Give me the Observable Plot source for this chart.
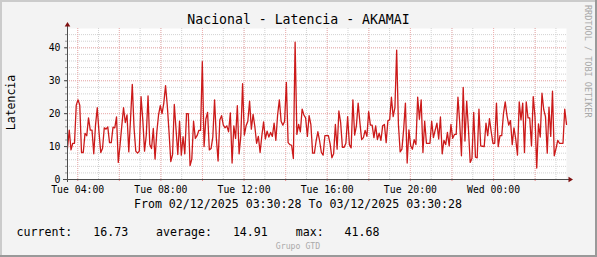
<!DOCTYPE html>
<html><head><meta charset="utf-8">
<script src="https://cdn.jsdelivr.net/npm/d3@7"></script>
<script src="https://cdn.jsdelivr.net/npm/@observablehq/plot@0.6"></script>
<style>
html,body{margin:0;padding:0;background:#f3f3f3;}
svg text{white-space:pre;}
</style></head><body><div id="chart"></div>
<script>
// ---- data ----
const title = "Nacional - Latencia - AKAMAI";
const yAxisTitle = "Latencia";
const periodStart = "2025-12-02T03:30:28Z";
const periodEnd = "2025-12-03T03:30:28Z";
const periodText = "From 02/12/2025 03:30:28 To 03/12/2025 03:30:28";
const statsText = "current:   16.73    average:   14.91    max:   41.68";
const footerText = "Grupo GTD";
const watermark = "RRDTOOL / TOBI OETIKER";
const xTickTimes = ["2025-12-02T04:00:00Z","2025-12-02T08:00:00Z","2025-12-02T12:00:00Z","2025-12-02T16:00:00Z","2025-12-02T20:00:00Z","2025-12-03T00:00:00Z"];
const xTickLabels = ["Tue 04:00","Tue 08:00","Tue 12:00","Tue 16:00","Tue 20:00","Wed 00:00"];
const yTickValues = [0, 10, 20, 30, 40];
const yTickLabels = ["0", "10", "20", "30", "40"];
const yMax = 45.86;
const latency = [
 9.5,15,9,11,11,22.6,24.2,22.6,8.2,8.2,14,13.3,18.7,15,15,7.8,16.5,21.8,14.3,8.2,
 9.4,15.7,15.3,16,11.2,11.2,15.9,15.7,19,5.2,10.4,16.3,21.8,17.3,19.6,8.4,18.3,28.9,15.7,8.6,
 8,8.6,25.2,18.1,8.6,13.5,25.4,10.6,9.4,15.5,6.2,14.3,19.6,22.4,20,23.2,28.5,22.4,14.3,5.4,
 7.6,22.8,15.1,7.6,17.7,7.4,13,7.8,20,20,4.2,
 6.2,17.7,12.5,13.3,14.9,14.9,35.8,10,18.3,20.4,9,9.4,12.9,24.2,12.7,5.6,18.1,19.4,16.5,15.7,
 16.3,14.5,20.2,5,16.3,12.5,22.4,7.8,13.3,29.1,13.5,16.3,17.7,23.8,15.3,19.8,16.1,11,13.1,8.2,
 13.3,17.5,12.3,14.7,12.9,14.3,13.1,17.1,11.9,19.6,24.2,17.7,16.5,17.7,29.5,11.2,10.6,10.4,6.4,41.68,
 13.7,16.7,14.5,21.4,19.6,18.7,13.1,19.4,16.7,8,8,
 11.7,14.5,11.7,8.2,7.4,13.3,13.3,13.3,10.8,6.6,7.8,16.7,9.2,20.8,17.3,9.8,9.8,11,19.1,10.6,
 9.6,24.2,13.5,16.3,23.2,17.3,12.1,12.7,14.9,13.1,20.6,16.5,16.5,12.7,16.3,12.1,14.1,11.9,16.3,16.7,
 11.2,17.9,18.1,25,19.1,21.8,39.3,16.7,8.4,9.2,15.3,23.2,5,15.1,10.2,9.2,12.1,
 10.6,25,18.3,24.2,8.2,17.7,11,11,11,17.7,12.7,15,17.1,12.3,
 19,7.8,11.9,10.6,14.3,10.2,16.7,12.5,13.7,13.7,25,17.3,7.2,28,11.7,23.8,15.3,5.2,6.4,20.4,
 6.8,6.6,21.4,10.2,10.1,10,17.1,13.3,18.5,14.5,11,11,23.2,10,13.3,13.3,20,23.6,19.4,16.5,
 17.9,10.6,15.7,12.3,7.4,23.6,18.1,23.2,8.2,23.6,18.7,18.7,10.2,25.2,19.1,3.5,
 16.9,12.9,26.2,21.2,19.1,8,22,13.1,26.8,7.2,9.4,11.9,11,11,11,21.4,16.73
];

// ---- build ----
const t0 = new Date(periodStart), t1 = new Date(periodEnd);
const step = (t1 - t0) / (latency.length - 1);
const series = latency.map((v, i) => ({t: new Date(+t0 + i * step), v}));
const hours = d3.utcHour.range(t0, t1);
const twoHours = hours.filter(d => d.getUTCHours() % 2 === 0);
const yMinor = d3.range(0, yMax, 2);
const xTicks = xTickTimes.map(s => new Date(s));
const xLabel = d => xTickLabels[xTicks.findIndex(t => +t === +d)];
const yLabel = d => yTickLabels[yTickValues.indexOf(d)];

const MONO = "'DejaVu Sans Mono', monospace";
const minorCol = "#d2d2d2", majorCol = "#f0b0b0", axisCol = "#4d4d4d", arrowCol = "#7f1010";

const chart = Plot.plot({
  width: 597, height: 257,
  marginLeft: 67, marginRight: 31, marginTop: 28, marginBottom: 78,
  style: {background: "#f3f3f3", fontFamily: MONO, fontSize: "9.8px", color: "#000", overflow: "visible"},
  x: {type: "utc", domain: [t0, t1]},
  y: {domain: [0, yMax]},
  marks: [
    Plot.frame({fill: "white", stroke: "none"}),
    Plot.gridY(yMinor, {stroke: minorCol, strokeOpacity: 1, strokeDasharray: "1,1"}),
    Plot.gridX(hours, {stroke: minorCol, strokeOpacity: 1, strokeDasharray: "1,1"}),
    Plot.gridY(yTickValues, {stroke: majorCol, strokeOpacity: 1, strokeDasharray: "1,1"}),
    Plot.gridX(twoHours, {stroke: majorCol, strokeOpacity: 1, strokeDasharray: "1,1"}),
    Plot.line(series, {x: "t", y: "v", stroke: "#cc1a1a", strokeWidth: 1.3}),
    Plot.axisY(yMinor, {tickSize: 2, stroke: "#999", fill: "none", label: null}),
    Plot.axisY(yTickValues, {tickSize: 3, tickPadding: 4, stroke: axisCol, fill: "#000", tickFormat: yLabel, label: null, fontFamily: MONO, fontSize: 9.8}),
    Plot.axisX(twoHours, {tickSize: 2, stroke: "#e88888", fill: "none", label: null}),
    Plot.axisX(xTicks, {tickSize: 0, tickPadding: 6.2, fill: "#000", stroke: "none", tickFormat: xLabel, label: null, fontFamily: MONO, fontSize: 9.8}),
    Plot.ruleX([t0], {stroke: axisCol, insetTop: -3, insetBottom: -3}),
    Plot.ruleY([0], {stroke: axisCol, insetLeft: -4, insetRight: -5})
  ]
});
document.getElementById("chart").appendChild(chart);

// ---- decorations using the plot's scales ----
const svg = d3.select(chart);
const xs = chart.scale("x"), ys = chart.scale("y");
const ax = Math.round(xs.apply(t0)) + 0.5;
const ay = Math.round(ys.apply(0)) + 0.5;
const topY = ys.apply(yMax);
const rightX = xs.apply(t1);
svg.append("path").attr("d", `M${ax},${topY - 6}L${ax + 2.8},${topY - 1.5}L${ax - 2.8},${topY - 1.5}Z`).attr("fill", arrowCol);
svg.append("path").attr("d", `M${rightX + 7},${ay}L${rightX + 2.5},${ay - 2.8}L${rightX + 2.5},${ay + 2.8}Z`).attr("fill", arrowCol);

// frame border
svg.append("line").attr("x1", 0).attr("x2", 597).attr("y1", 1).attr("y2", 1).attr("stroke", "#cbcbcb").attr("stroke-width", 2);
svg.append("line").attr("x1", 1).attr("x2", 1).attr("y1", 0).attr("y2", 257).attr("stroke", "#cbcbcb").attr("stroke-width", 2);
svg.append("line").attr("x1", 596).attr("x2", 596).attr("y1", 0).attr("y2", 257).attr("stroke", "#999").attr("stroke-width", 2);
svg.append("line").attr("x1", 0).attr("x2", 597).attr("y1", 256).attr("y2", 256).attr("stroke", "#999").attr("stroke-width", 2);

const txt = (x, y, s, size, opts = {}) => svg.append("text")
  .attr("x", x).attr("y", y).text(s)
  .attr("font-family", MONO).attr("font-size", size)
  .attr("fill", opts.fill || "#000")
  .attr("text-anchor", opts.anchor || "middle")
  .attr("transform", opts.transform || null);

txt(298.5, 24, title, 13.2);
txt(0, 0, yAxisTitle, 11.5, {transform: "translate(15.3,102.5) rotate(-90)"});
txt(0, 0, watermark, 8.5, {fill: "#a8a8a8", anchor: "start", transform: "translate(585,5) rotate(90)"});
txt(298, 208, periodText, 11.6);
txt(16.5, 236, statsText, 11.6, {anchor: "start"});
txt(298, 249, footerText, 8.2, {fill: "#aaaaaa"});
</script></body></html>
